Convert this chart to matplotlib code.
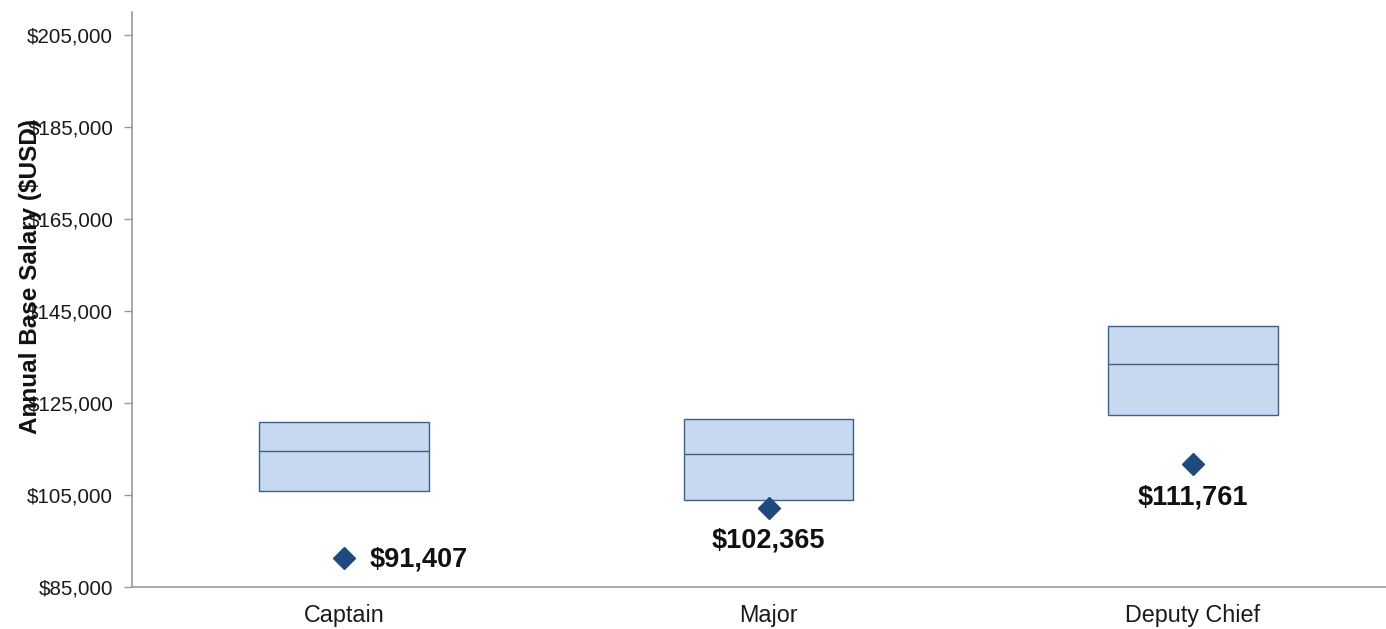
import matplotlib
matplotlib.use("Agg")
import matplotlib.pyplot as plt
from matplotlib.ticker import FuncFormatter

# salary ranges per rank
ranks = ["Captain", "Major", "Deputy Chief"]
range_low = [106000, 104000, 122500]
range_mid = [114600, 114000, 133600]
range_high = [121000, 121600, 141900]
actual = [91407, 102365, 111761]
yticks = [85000, 105000, 125000, 145000, 165000, 185000, 205000]

fill_color = "#c6d9f1"
edge_color = "#3f5f85"
marker_color = "#1f4a7d"
font = "Liberation Sans"

fig = plt.figure(figsize=(13.86, 6.29), dpi=100)
ax = fig.add_axes([0.0952, 0.066, 0.9048, 0.915])

x = list(range(len(ranks)))
heights = [h - l for h, l in zip(range_high, range_low)]
ax.bar(x, heights, bottom=range_low, width=0.4, color=fill_color,
       edgecolor=edge_color, linewidth=1.0, zorder=2)
ax.hlines(range_mid, [i - 0.2 for i in x], [i + 0.2 for i in x],
          color=edge_color, linewidth=1.0, zorder=3)

ax.plot(x, actual, linestyle="none", marker="D", markersize=11,
        color=marker_color, zorder=4)

# value labels: Captain to the right, others below
for i, v in enumerate(actual):
    label = f"${v:,.0f}"
    if i == 0:
        ax.annotate(label, (i, v), xytext=(18, -1), textcoords="offset points",
                    ha="left", va="center", fontsize=19.5, fontweight="bold",
                    family=font, color="#111111")
    else:
        ax.annotate(label, (i, v), xytext=(0, -24), textcoords="offset points",
                    ha="center", va="center", fontsize=19.5, fontweight="bold",
                    family=font, color="#111111")

ax.set_xlim(-0.5, 2.455)
ax.set_ylim(85000, 210000)
ax.set_yticks(yticks)
ax.yaxis.set_major_formatter(FuncFormatter(lambda v, p: f"${v:,.0f}"))
ax.set_xticks(x)
ax.set_xticklabels(ranks)

for lab in ax.get_yticklabels():
    lab.set_family(font)
    lab.set_fontsize(14.8)
    lab.set_color("#1a1a1a")
for lab in ax.get_xticklabels():
    lab.set_family(font)
    lab.set_fontsize(16.8)
    lab.set_color("#1a1a1a")

ax.tick_params(axis="y", length=6, width=1, color="#9a9a9a", pad=7.5)
ax.tick_params(axis="x", length=0, pad=12)

for side in ["top", "right"]:
    ax.spines[side].set_visible(False)
for side in ["left", "bottom"]:
    ax.spines[side].set_color("#9a9a9a")
    ax.spines[side].set_linewidth(1.2)

ax.set_ylabel("Annual Base Salary ($USD)", fontsize=17.5, fontweight="bold",
              family=font, color="#111111")
ax.yaxis.set_label_coords(-0.0715, 0.54)

fig.savefig("out.png", dpi=100)
plt.close(fig)
